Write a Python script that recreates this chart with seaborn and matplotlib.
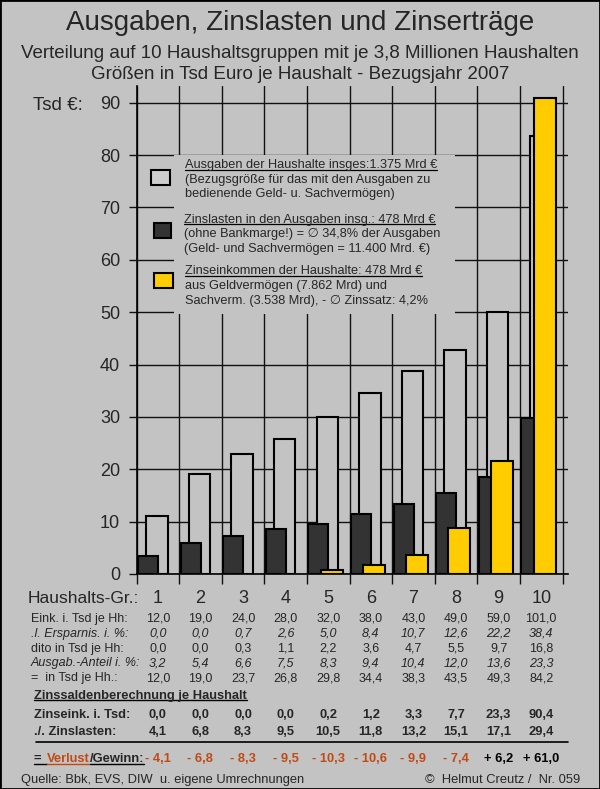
import numpy as np
import pandas as pd
import matplotlib
matplotlib.use("Agg")
import matplotlib.pyplot as plt
import seaborn as sns
from matplotlib.lines import Line2D
from matplotlib.patches import Rectangle
import matplotlib.transforms as mtrans

# ---------------- data ----------------
groups = ["1", "2", "3", "4", "5", "6", "7", "8", "9", "10"]
bar_ausgaben = [11.0, 19.1, 23.0, 25.8, 30.0, 34.6, 38.8, 42.8, 50.0, 83.6]
bar_zinslast = [3.5, 6.0, 7.2, 8.5, 9.5, 11.5, 13.4, 15.4, 18.6, 29.8]
bar_zinseink = [0.0, 0.0, 0.0, 0.0, 0.7, 1.8, 3.6, 8.8, 21.5, 90.8]
yticks = [0, 10, 20, 30, 40, 50, 60, 70, 80, 90]

eink = [12.0, 19.0, 24.0, 28.0, 32.0, 38.0, 43.0, 49.0, 59.0, 101.0]
erspar_pct = [0.0, 0.0, 0.7, 2.6, 5.0, 8.4, 10.7, 12.6, 22.2, 38.4]
erspar_tsd = [0.0, 0.0, 0.3, 1.1, 2.2, 3.6, 4.7, 5.5, 9.7, 16.8]
ausg_pct = [3.2, 5.4, 6.6, 7.5, 8.3, 9.4, 10.4, 12.0, 13.6, 23.3]
ausg_tsd = [12.0, 19.0, 23.7, 26.8, 29.8, 34.4, 38.3, 43.5, 49.3, 84.2]
zinseink = [0.0, 0.0, 0.0, 0.0, 0.2, 1.2, 3.3, 7.7, 23.3, 90.4]
zinslast = [4.1, 6.8, 8.3, 9.5, 10.5, 11.8, 13.2, 15.1, 17.1, 29.4]
saldo = [-4.1, -6.8, -8.3, -9.5, -10.3, -10.6, -9.9, -7.4, 6.2, 61.0]

row_labels = ["Eink. i. Tsd je Hh:", ".l. Ersparnis. i. %:", "dito in Tsd je Hh:",
              "Ausgab.-Anteil i. %:", "=  in Tsd je Hh.:"]
legend_lines = [
    ["Ausgaben der Haushalte insges:1.375 Mrd €",
     "(Bezugsgröße für das mit den Ausgaben zu",
     "bedienende Geld- u. Sachvermögen)"],
    ["Zinslasten in den Ausgaben insg.: 478 Mrd €",
     "(ohne Bankmarge!) = \u2205 34,8% der Ausgaben",
     "(Geld- und Sachvermögen = 11.400 Mrd. €)"],
    ["Zinseinkommen der Haushalte: 478 Mrd €",
     "aus Geldvermögen (7.862 Mrd) und",
     "Sachverm. (3.538 Mrd), - \u2205 Zinssatz: 4,2%"],
]

# ---------------- style ----------------
BG = "#c3c3c3"
DARK = "#333333"
YEL = "#ffcc00"
RED = "#c04a14"
sns.set_style("white", rc={"axes.facecolor": BG, "figure.facecolor": BG})
plt.rcParams["font.family"] = ["Liberation Sans", "DejaVu Sans"]

W, H = 600, 789
fig = plt.figure(figsize=(W / 100, H / 100), dpi=100)
fig.patch.set_facecolor(BG)

AX_L, AX_R, AX_T, AX_B = 136.5, 568.0, 86.0, 574.0
CAT_W = 42.6
PX_PER_UNIT = 5.237
ax = fig.add_axes([AX_L / W, 1 - AX_B / H, (AX_R - AX_L) / W, (AX_B - AX_T) / H])
ax.set_facecolor(BG)

idx = np.arange(len(groups))
OFF_W, OFF_D, OFF_Y = -0.02, -0.23, 0.08
df_w = pd.DataFrame({"pos": idx + OFF_W, "val": bar_ausgaben})
df_d = pd.DataFrame({"pos": idx + OFF_D, "val": bar_zinslast})
df_y = pd.DataFrame({"pos": idx + OFF_Y, "val": bar_zinseink})

sns.barplot(data=df_w, x="pos", y="val", native_scale=True, width=0.50, color=BG,
            saturation=1, edgecolor="black", linewidth=1.5, errorbar=None, ax=ax, zorder=2)
sns.barplot(data=df_d, x="pos", y="val", native_scale=True, width=0.47, color=DARK,
            saturation=1, edgecolor="black", linewidth=1.5, errorbar=None, ax=ax, zorder=3)
sns.barplot(data=df_y, x="pos", y="val", native_scale=True, width=0.52, color=YEL,
            saturation=1, edgecolor="black", linewidth=1.5, errorbar=None, ax=ax, zorder=4)
for p in ax.containers[-1]:
    if p.get_height() == 0:
        p.set_linewidth(0)

ax.set_xlim(-0.5, -0.5 + (AX_R - AX_L) / CAT_W)
ax.set_ylim(0, (AX_B - AX_T) / PX_PER_UNIT)
ax.set_xlabel("")
ax.set_ylabel("")
ax.set_xticks(np.arange(-0.5, len(groups), 1.0))
ax.set_xticklabels([])
ax.set_yticks(yticks)
ax.set_yticklabels([str(v) for v in yticks])
ax.set_axisbelow(True)
ax.grid(True, color="#111111", linewidth=1.0)
ax.tick_params(axis="x", direction="out", length=7.2, width=1.0, color="#111111", bottom=True)
ax.tick_params(axis="y", direction="out", length=5.8, width=1.0, color="#111111",
               labelsize=13, pad=6, left=True)
for s in ["top", "right"]:
    ax.spines[s].set_visible(False)
for s in ["left", "bottom"]:
    ax.spines[s].set_color("black")
    ax.spines[s].set_linewidth(1.2)

# legend box covering grid lines
ax.add_patch(Rectangle((174 / W, 1 - 314 / H), (455 - 174) / W, (314 - 155) / H,
                       transform=fig.transFigure, facecolor=BG, edgecolor="none",
                       zorder=1, clip_on=False))

# ---------------- text helpers ----------------
blend = mtrans.blended_transform_factory(ax.transData, fig.transFigure)


def ftext(xpx, yc, txt, s, ha="left", **kw):
    base = yc + 0.497 * s
    t = fig.text(xpx / W, 1 - base / H, txt, ha=ha, va="baseline", fontsize=s, **kw)
    t._base = base
    return t


def dtext(xd, yc, txt, s, **kw):
    base = yc + 0.497 * s
    t = fig.text(xd, 1 - base / H, txt, ha="center", va="baseline", fontsize=s,
                 transform=blend, **kw)
    t._base = base
    return t


def fmt(v):
    return f"{v:.1f}".replace(".", ",")


renderer = fig.canvas.get_renderer()


def underline(t, color="black", lw=1.0, x0=None, x1=None):
    bb = t.get_window_extent(renderer)
    a = bb.x0 if x0 is None else x0
    b = bb.x1 if x1 is None else x1
    y = 1 - (t._base + 1.6) / H
    fig.add_artist(Line2D([a / W, b / W], [y, y], transform=fig.transFigure,
                          color=color, linewidth=lw))


# titles
ftext(300, 20.5, "Ausgaben, Zinslasten und Zinserträge", 20, ha="center")
ftext(300, 51.2, "Verteilung auf 10 Haushaltsgruppen mit je 3,8 Millionen Haushalten", 13.5, ha="center")
ftext(300, 72.2, "Größen in Tsd Euro je Haushalt - Bezugsjahr 2007", 13.5, ha="center")
ftext(33, 103, "Tsd €:", 13.5)

# legend
LS = 9.2
leg_y = [[163.8, 178.7, 192.8], [218.0, 232.8, 247.3], [269.5, 284.7, 299.5]]
leg_x = [185, 183.5, 185]
leg_sq = [(151, 170, 19, 14.5, "#cdcdcd"), (153.5, 223.5, 17.5, 14.5, DARK),
          (153.5, 273, 19, 15, YEL)]
for b in range(3):
    for j, line in enumerate(legend_lines[b]):
        t = ftext(leg_x[b], leg_y[b][j], line, LS)
        if j == 0:
            underline(t, lw=0.9)
    x, y, w, h, c = leg_sq[b]
    fig.patches.append(Rectangle((x / W, 1 - (y + h) / H), w / W, h / H,
                                 transform=fig.transFigure, facecolor=c,
                                 edgecolor="black", linewidth=1.5, zorder=5))

# x-axis labels
ftext(27.5, 597, "Haushalts-Gr.:", 12.5)
for i, g in enumerate(groups):
    dtext(i, 597, g, 13)

# table rows
RS = 9.0
rows = [eink, erspar_pct, erspar_tsd, ausg_pct, ausg_tsd]
row_y = [617.3, 632.3, 647.3, 661.7, 676.7]
for r, (lab, vals, yc) in enumerate(zip(row_labels, rows, row_y)):
    style = "italic" if r in (1, 3) else "normal"
    ftext(31, yc, lab, RS, style=style)
    for i, v in enumerate(vals):
        dtext(i, yc, fmt(v), RS, style=style)

BS = 9.3
t = ftext(34, 694, "Zinssaldenberechnung je Haushalt", BS, weight="bold")
underline(t, lw=1.0)
ftext(34, 713.3, "Zinseink. i. Tsd:", BS, weight="bold")
for i, v in enumerate(zinseink):
    dtext(i, 713.3, fmt(v), BS, weight="bold")
ftext(34, 730.7, "./. Zinslasten:", BS, weight="bold")
for i, v in enumerate(zinslast):
    dtext(i, 730.7, fmt(v), BS, weight="bold")
fig.add_artist(Line2D([36 / W, 568 / W], [1 - 741.7 / H] * 2, transform=fig.transFigure,
                      color="black", linewidth=1.2))

t1 = ftext(34, 757.3, "=", BS, weight="bold")
bb1 = t1.get_window_extent(renderer)
t2 = ftext(bb1.x1 + 5, 757.3, "Verlust", BS, weight="bold", color=RED)
bb2 = t2.get_window_extent(renderer)
t3 = ftext(bb2.x1 + 0.5, 757.3, "/Gewinn:", BS, weight="bold")
underline(t1, lw=1.0, x0=bb1.x0, x1=bb2.x0)
underline(t2, color=RED, lw=1.0)
underline(t3, lw=1.0)
for i, v in enumerate(saldo):
    s = ("- " if v < 0 else "+ ") + fmt(abs(v))
    dtext(i, 757.3, s, BS, weight="bold", color=RED if v < 0 else "black")

ftext(21, 778.3, "Quelle: Bbk, EVS, DIW  u. eigene Umrechnungen", 9.3)
ftext(580, 778.3, "©  Helmut Creutz /  Nr. 059", 9.3, ha="right")

fig.patches.append(Rectangle((0, 0), 1, 1, transform=fig.transFigure, fill=False,
                             edgecolor="black", linewidth=2))

fig.savefig("out.png", dpi=100, facecolor=BG)
